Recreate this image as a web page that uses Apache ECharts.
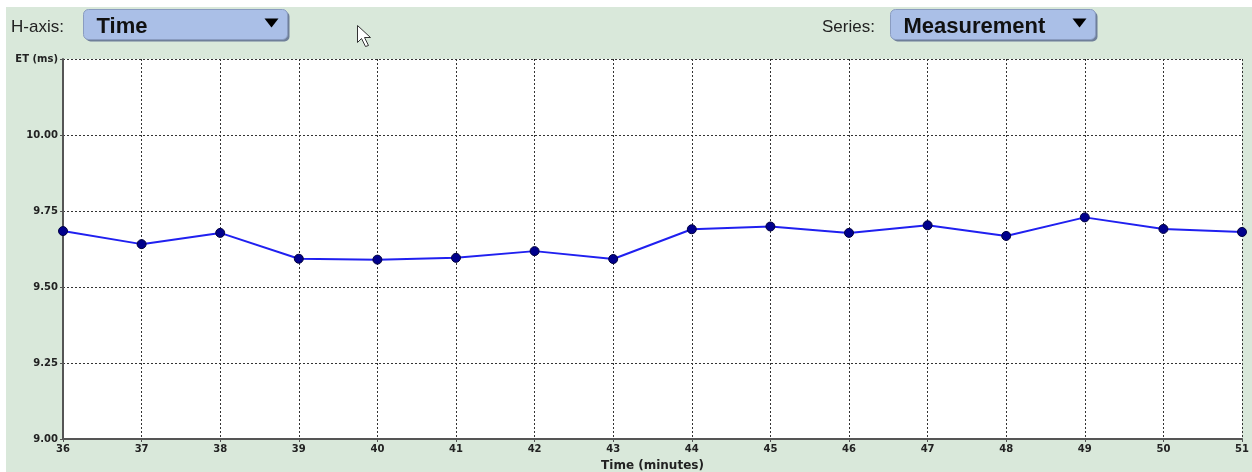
<!DOCTYPE html>
<html>
<head>
<meta charset="utf-8">
<script src="https://cdn.jsdelivr.net/npm/echarts@6/dist/echarts.min.js"></script>
<style>
html, body { margin: 0; padding: 0; background: #ffffff; }
#main { width: 1252px; height: 472px; }
</style>
</head>
<body>
<div id="main"></div>
<script>
// data
var minutes = [36, 37, 38, 39, 40, 41, 42, 43, 44, 45, 46, 47, 48, 49, 50, 51];
var etMs = [9.684, 9.641, 9.678, 9.593, 9.590, 9.596, 9.618, 9.592, 9.690, 9.699, 9.678, 9.703, 9.668, 9.729, 9.691, 9.681];
var yTicks = [9.00, 9.25, 9.50, 9.75, 10.00];

var points = [];
for (var i = 0; i < minutes.length; i++) {
	points.push([minutes[i], etMs[i]]);
}

var myChart = echarts.init(document.getElementById('main'));

// the drop-down look-alike buttons on top
function dropButton(x, w, text) {
	return {
		type: 'group',
		left: x,
		top: 9,
		children: [
			{type: 'rect', shape: {x: 2, y: 2, width: w, height: 30, r: 5}, style: {fill: '#6f7f99'}},
			{type: 'rect', shape: {x: 0, y: 0, width: w, height: 30, r: 5},
				style: {fill: '#aabfe7', stroke: '#8a9cc0', lineWidth: 1}},
			{type: 'text', x: 13, y: 17, style: {text: text, fontFamily: 'Liberation Sans', fontWeight: 'bold',
				fontSize: 22, fill: '#111', verticalAlign: 'middle'}},
			{type: 'polygon', shape: {points: [[w - 23, 9], [w - 9, 9], [w - 16, 18]]}, style: {fill: '#000'}}
		]
	};
}

option = {
	backgroundColor: '#ffffff',
	animation: false,
	graphic: [
		{type: 'rect', z: -10, shape: {x: 6, y: 7, width: 1246, height: 465}, style: {fill: '#d9e8da'}},
		{type: 'text', left: 11, top: 19, style: {text: 'H-axis:', fontFamily: 'Liberation Sans', fontSize: 17, fill: '#222'}},
		dropButton(83, 204, 'Time'),
		{type: 'text', left: 822, top: 19, style: {text: 'Series:', fontFamily: 'Liberation Sans', fontSize: 17, fill: '#222'}},
		dropButton(890, 205, 'Measurement'),
		// mouse pointer
		{type: 'polygon', left: 357, top: 25, shape: {points: [[0, 0], [0, 17], [4, 13], [8, 21], [11, 20], [7, 12], [13, 12]]},
			style: {fill: '#ffffff', stroke: '#333', lineWidth: 1}}
	],
	grid: {
		left: 63,
		right: 10,
		top: 59,
		bottom: 33,
		outerBoundsMode: 'none',
		containLabel: false,
		show: true,
		backgroundColor: '#ffffff',
		borderWidth: 0
	},
	xAxis: {
		type: 'value',
		min: 36,
		max: 51,
		interval: 1,
		name: 'Time (minutes)',
		nameLocation: 'middle',
		nameGap: 21,
		nameTextStyle: {fontFamily: 'DejaVu Sans', fontWeight: 'bold', fontSize: 12, color: '#222'},
		axisLine: {lineStyle: {color: '#555', width: 2}},
		axisTick: {show: true, length: 3, lineStyle: {color: '#555'}},
		axisLabel: {fontFamily: 'DejaVu Sans', fontWeight: 'bold', fontSize: 10, color: '#222', margin: 5},
		splitLine: {show: true, lineStyle: {color: '#333', type: [2, 2], width: 1}}
	},
	yAxis: {
		type: 'value',
		min: 9,
		max: 10.25,
		interval: 0.25,
		axisLine: {show: true, lineStyle: {color: '#555', width: 2}},
		axisTick: {show: true, length: 3, lineStyle: {color: '#555'}},
		axisLabel: {
			fontFamily: 'DejaVu Sans', fontWeight: 'bold', fontSize: 10, color: '#222', margin: 5,
			formatter: function (v) {
				if (v > 10.2) return 'ET (ms)';
				return yTicks.indexOf(v) >= 0 ? v.toFixed(2) : '';
			}
		},
		splitLine: {show: true, lineStyle: {color: '#333', type: [2, 2], width: 1}}
	},
	series: [{
		type: 'line',
		data: points,
		symbol: 'circle',
		symbolSize: 9,
		lineStyle: {color: '#2020f0', width: 2},
		itemStyle: {color: '#00008c', borderColor: '#000040', borderWidth: 1}
	}]
};

myChart.setOption(option);
window.onresize = myChart.resize;
</script>
</body>
</html>
